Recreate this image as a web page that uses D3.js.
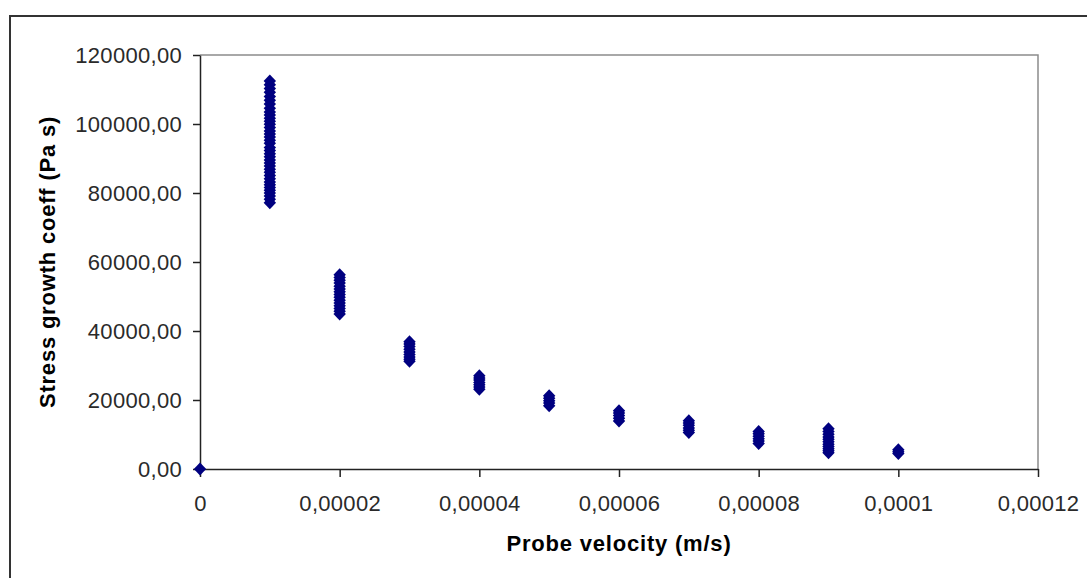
<!DOCTYPE html>
<html>
<head>
<meta charset="utf-8">
<script src="https://cdn.jsdelivr.net/npm/d3@7"></script>
<style>
  body { margin: 0; background: #fff; }
  svg { display: block; font-family: "Liberation Sans", Arial, sans-serif; }
</style>
</head>
<body>
<svg id="chart"></svg>
<script>
let width = 1087;
let height = 578;

// probe velocity (m/s) of every group of measurements
let velocities = [0, 0.00001, 0.00002, 0.00003, 0.00004, 0.00005, 0.00006, 0.00007, 0.00008, 0.00009, 0.0001];

// stress growth coeff (Pa s)
let stress_v0 = [0];
let stress_v1 = [112500, 111400, 110300, 109200, 108000, 106900, 105800, 104600, 103500,
                 102600, 101700, 100800, 99900, 99000, 98000, 97100, 96200, 95300, 94400,
                 93200, 92300, 91400, 90500, 89600, 88700, 87800, 86900, 86000, 85100,
                 84100, 83200, 82400, 81600, 80800, 80000, 79100, 78200, 77200];
let stress_v2 = [56300, 55500, 54700, 53900, 53000, 52200, 51400, 50600, 49800,
                 48900, 48100, 47300, 46500, 45700, 44900];
let stress_v3 = [36900, 36200, 35500, 34700, 33900, 33200, 32500, 31800, 31200];
let stress_v4 = [27000, 26400, 25800, 25100, 24400, 23800, 23100];
let stress_v5 = [21200, 20500, 19800, 19100, 18300];
let stress_v6 = [16900, 16200, 15500, 14700, 13900];
let stress_v7 = [14000, 13300, 12700, 11900, 11200, 10600];
let stress_v8 = [10900, 10200, 9500, 8800, 8100, 7400];
let stress_v9 = [11700, 10900, 10100, 9300, 8600, 7900, 7200, 6500, 5900, 5300, 4700];
let stress_v10 = [5600, 5000, 4500];

let stress_cols = [stress_v0, stress_v1, stress_v2, stress_v3, stress_v4, stress_v5,
                   stress_v6, stress_v7, stress_v8, stress_v9, stress_v10];

let xTicks = [0, 0.00002, 0.00004, 0.00006, 0.00008, 0.0001, 0.00012];
let xTickLabels = ["0", "0,00002", "0,00004", "0,00006", "0,00008", "0,0001", "0,00012"];
let yTicks = [0, 20000, 40000, 60000, 80000, 100000, 120000];
let yTickLabels = ["0,00", "20000,00", "40000,00", "60000,00", "80000,00", "100000,00", "120000,00"];

let points = [];
velocities.forEach((v, i) => stress_cols[i].forEach(s => points.push({v: v, s: s})));

let margin = ({top: 55, right: 49, bottom: 109, left: 200});

let x = d3.scaleLinear()
    .domain([0, 0.00012])
    .range([margin.left, width - margin.right]);

let y = d3.scaleLinear()
    .domain([0, 120000])
    .range([height - margin.bottom, margin.top]);

let svg = d3.select('#chart')
    .attr('width', width)
    .attr('height', height);

// outer chart frame
svg.append('rect')
    .attr('x', 10).attr('y', 16)
    .attr('width', width + 20).attr('height', height + 20)
    .attr('fill', 'none')
    .attr('stroke', '#333')
    .attr('stroke-width', 2);

// plot area frame (top + right)
svg.append('path')
    .attr('d', `M${x(0)},${y(120000)}H${x(0.00012)}V${y(0)}`)
    .attr('fill', 'none')
    .attr('stroke', '#8c8c8c')
    .attr('stroke-width', 1.5);

let xAxis = g => g
    .attr('transform', `translate(0,${y(0)})`)
    .call(d3.axisBottom(x).tickValues(xTicks).tickSize(8).tickSizeOuter(0).tickPadding(18)
        .tickFormat((d, i) => xTickLabels[i]))
    .call(g => g.selectAll('.domain, .tick line').attr('stroke', '#222').attr('stroke-width', 1.5))
    .call(g => g.selectAll('text').attr('font-size', 22).attr('fill', '#2a2a2a').attr('letter-spacing', 0.3));

let yAxis = g => g
    .attr('transform', `translate(${x(0)},0)`)
    .call(d3.axisLeft(y).tickValues(yTicks).tickSize(7).tickSizeOuter(0).tickPadding(11)
        .tickFormat((d, i) => yTickLabels[i]))
    .call(g => g.selectAll('.domain, .tick line').attr('stroke', '#222').attr('stroke-width', 1.5))
    .call(g => g.selectAll('text').attr('font-size', 22).attr('fill', '#2a2a2a')
        .attr('letter-spacing', 0.3).attr('dy', '0.36em'));

svg.append('g').call(xAxis);
svg.append('g').call(yAxis);

// diamond markers
let diamond = 'M0,-6.5L6.2,0L0,6.5L-6.2,0Z';
svg.append('g')
    .selectAll('path')
    .data(points)
    .join('path')
      .attr('transform', d => `translate(${x(d.v)},${y(d.s)})`)
      .attr('d', diamond)
      .attr('fill', '#000080');

// axis titles
svg.append('text')
    .attr('x', (x(0) + x(0.00012)) / 2)
    .attr('y', 551)
    .attr('text-anchor', 'middle')
    .attr('font-size', 22)
    .attr('font-weight', 'bold')
    .attr('letter-spacing', 0.8)
    .text('Probe velocity (m/s)');

svg.append('text')
    .attr('transform', `translate(55,${(y(0) + y(120000)) / 2}) rotate(-90)`)
    .attr('text-anchor', 'middle')
    .attr('font-size', 22)
    .attr('font-weight', 'bold')
    .attr('letter-spacing', 0.8)
    .text('Stress growth coeff (Pa s)');
</script>
</body>
</html>
